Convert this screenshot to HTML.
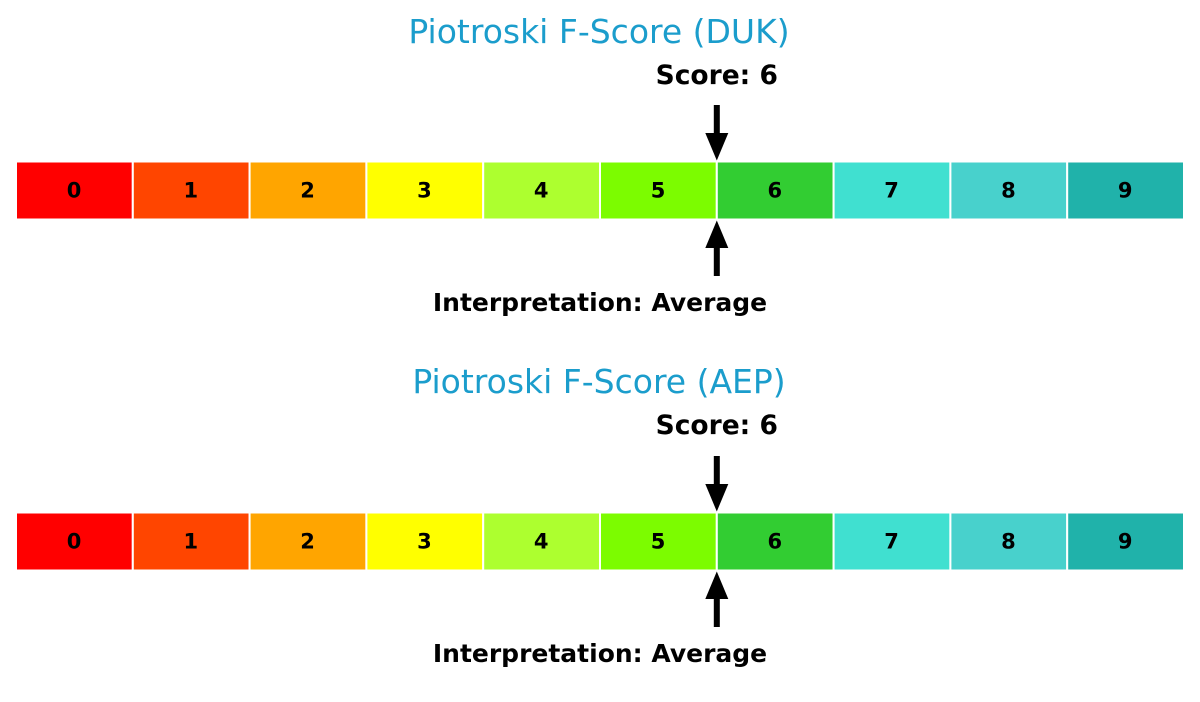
<!DOCTYPE html>
<html>
<head>
<meta charset="utf-8">
<style>
  html, body { margin:0; padding:0; background:#ffffff; }
  svg { display:block; }
  text { font-family: "DejaVu Sans", "Liberation Sans", sans-serif; }
</style>
</head>
<body>
<svg width="1200" height="702" viewBox="0 0 1200 702" xmlns="http://www.w3.org/2000/svg">
  <rect width="1200" height="702" fill="#ffffff"/>

  <!-- Panel 1 -->
  <g>
    <text x="599" y="43" text-anchor="middle" font-size="33" fill="#1b9dcc">Piotroski F-Score (DUK)</text>
    <text x="716.8" y="84" text-anchor="middle" font-size="26.5" font-weight="bold" fill="#000">Score: 6</text>

    <g stroke="#ffffff" stroke-width="2">
      <rect x="16" y="161.5" width="116.8" height="58" fill="#FF0000"/>
      <rect x="132.8" y="161.5" width="116.8" height="58" fill="#FF4500"/>
      <rect x="249.6" y="161.5" width="116.8" height="58" fill="#FFA500"/>
      <rect x="366.4" y="161.5" width="116.8" height="58" fill="#FFFF00"/>
      <rect x="483.2" y="161.5" width="116.8" height="58" fill="#ADFF2F"/>
      <rect x="600" y="161.5" width="116.8" height="58" fill="#7CFC00"/>
      <rect x="716.8" y="161.5" width="116.8" height="58" fill="#32CD32"/>
      <rect x="833.6" y="161.5" width="116.8" height="58" fill="#40E0D0"/>
      <rect x="950.4" y="161.5" width="116.8" height="58" fill="#48D1CC"/>
      <rect x="1067.2" y="161.5" width="116.8" height="58" fill="#20B2AA"/>
    </g>
    <g font-size="21" font-weight="bold" text-anchor="middle" fill="#000">
      <text x="74" y="197.5">0</text>
      <text x="190.8" y="197.5">1</text>
      <text x="307.6" y="197.5">2</text>
      <text x="424.4" y="197.5">3</text>
      <text x="541.2" y="197.5">4</text>
      <text x="658" y="197.5">5</text>
      <text x="774.8" y="197.5">6</text>
      <text x="891.6" y="197.5">7</text>
      <text x="1008.4" y="197.5">8</text>
      <text x="1125.2" y="197.5">9</text>
    </g>

    <!-- down arrow -->
    <rect x="713.8" y="105" width="6" height="30" fill="#000"/>
    <polygon points="705.3,133 728.3,133 716.8,160.5" fill="#000"/>
    <!-- up arrow -->
    <polygon points="705.3,248 728.3,248 716.8,220.5" fill="#000"/>
    <rect x="713.8" y="246" width="6" height="30" fill="#000"/>

    <text x="600" y="311" text-anchor="middle" font-size="25" font-weight="bold" fill="#000">Interpretation: Average</text>
  </g>

  <!-- Panel 2 -->
  <g transform="translate(0,351)">
    <text x="599" y="42" text-anchor="middle" font-size="33" fill="#1b9dcc">Piotroski F-Score (AEP)</text>
    <text x="716.8" y="83" text-anchor="middle" font-size="26.5" font-weight="bold" fill="#000">Score: 6</text>

    <g stroke="#ffffff" stroke-width="2">
      <rect x="16" y="161.5" width="116.8" height="58" fill="#FF0000"/>
      <rect x="132.8" y="161.5" width="116.8" height="58" fill="#FF4500"/>
      <rect x="249.6" y="161.5" width="116.8" height="58" fill="#FFA500"/>
      <rect x="366.4" y="161.5" width="116.8" height="58" fill="#FFFF00"/>
      <rect x="483.2" y="161.5" width="116.8" height="58" fill="#ADFF2F"/>
      <rect x="600" y="161.5" width="116.8" height="58" fill="#7CFC00"/>
      <rect x="716.8" y="161.5" width="116.8" height="58" fill="#32CD32"/>
      <rect x="833.6" y="161.5" width="116.8" height="58" fill="#40E0D0"/>
      <rect x="950.4" y="161.5" width="116.8" height="58" fill="#48D1CC"/>
      <rect x="1067.2" y="161.5" width="116.8" height="58" fill="#20B2AA"/>
    </g>
    <g font-size="21" font-weight="bold" text-anchor="middle" fill="#000">
      <text x="74" y="197.5">0</text>
      <text x="190.8" y="197.5">1</text>
      <text x="307.6" y="197.5">2</text>
      <text x="424.4" y="197.5">3</text>
      <text x="541.2" y="197.5">4</text>
      <text x="658" y="197.5">5</text>
      <text x="774.8" y="197.5">6</text>
      <text x="891.6" y="197.5">7</text>
      <text x="1008.4" y="197.5">8</text>
      <text x="1125.2" y="197.5">9</text>
    </g>

    <rect x="713.8" y="105" width="6" height="30" fill="#000"/>
    <polygon points="705.3,133 728.3,133 716.8,160.5" fill="#000"/>
    <polygon points="705.3,248 728.3,248 716.8,220.5" fill="#000"/>
    <rect x="713.8" y="246" width="6" height="30" fill="#000"/>

    <text x="600" y="311" text-anchor="middle" font-size="25" font-weight="bold" fill="#000">Interpretation: Average</text>
  </g>
</svg>
</body>
</html>
